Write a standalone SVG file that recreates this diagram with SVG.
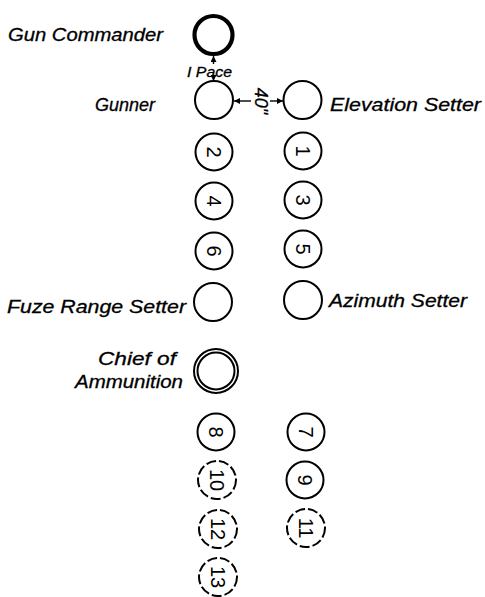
<svg xmlns="http://www.w3.org/2000/svg" width="485" height="597" viewBox="0 0 485 597">
<style>
  .bg{fill:#fff}
  .c{fill:none;stroke:#000;stroke-width:2}
  .thick{fill:none;stroke:#000;stroke-width:4.2}
  .dash{fill:none;stroke:#000;stroke-width:2;stroke-dasharray:10 3}
  .lbl{font-family:"Liberation Sans",Arial,sans-serif;font-style:italic;font-size:18px;fill:#000;stroke:#000;stroke-width:0.3}
  .small{font-family:"Liberation Sans",Arial,sans-serif;font-style:italic;font-size:14px;fill:#000;stroke:#000;stroke-width:0.3}
  .num{font-family:"Liberation Sans",Arial,sans-serif;font-size:20px;fill:#000;text-anchor:middle;dominant-baseline:central}
  .conn{stroke:#000;stroke-width:1.4;fill:none}
</style>
<defs>
  <marker id="ah" viewBox="0 0 6 6" refX="6" refY="3" markerWidth="6" markerHeight="6" markerUnits="userSpaceOnUse" orient="auto">
    <path d="M0,0 L6,3 L0,6 Z" fill="#000"/>
  </marker>
</defs>
<rect class="bg" x="0" y="0" width="485" height="597"/>

<g id="gun-commander">
  <circle class="thick" cx="213.5" cy="35" r="19"/>
  <text class="lbl" x="163" y="41" text-anchor="end" textLength="155" lengthAdjust="spacingAndGlyphs">Gun Commander</text>
</g>
<g id="gunner">
  <circle class="c" cx="214" cy="100" r="19"/>
  <text class="lbl" x="155" y="111" text-anchor="end" textLength="60" lengthAdjust="spacingAndGlyphs">Gunner</text>
</g>
<g id="elevation-setter">
  <circle class="c" cx="302.5" cy="100" r="19"/>
  <text class="lbl" x="330" y="111" textLength="151" lengthAdjust="spacingAndGlyphs">Elevation Setter</text>
</g>

<g id="n2"><circle class="c" cx="214" cy="152" r="18.5"/><text class="num" transform="translate(214,152) rotate(90)">2</text></g>
<g id="n1"><circle class="c" cx="303" cy="151" r="18.5"/><text class="num" transform="translate(303,151) rotate(90)">1</text></g>
<g id="n4"><circle class="c" cx="214" cy="201" r="18.5"/><text class="num" transform="translate(214,201) rotate(90)">4</text></g>
<g id="n3"><circle class="c" cx="303" cy="200" r="18.5"/><text class="num" transform="translate(303,200) rotate(90)">3</text></g>
<g id="n6"><circle class="c" cx="214" cy="251" r="18.5"/><text class="num" transform="translate(214,251) rotate(90)">6</text></g>
<g id="n5"><circle class="c" cx="303" cy="249" r="18.5"/><text class="num" transform="translate(303,249) rotate(90)">5</text></g>

<g id="fuze-range-setter">
  <circle class="c" cx="213" cy="302" r="19"/>
  <text class="lbl" x="186" y="313" text-anchor="end" textLength="179" lengthAdjust="spacingAndGlyphs">Fuze Range Setter</text>
</g>
<g id="azimuth-setter">
  <circle class="c" cx="303" cy="300" r="19"/>
  <text class="lbl" x="329" y="307" textLength="138" lengthAdjust="spacingAndGlyphs">Azimuth Setter</text>
</g>

<g id="chief-of-ammunition">
  <circle class="c" cx="216" cy="371" r="22" stroke-width="1.6"/>
  <circle class="c" cx="216" cy="371" r="18.5" stroke-width="1.6"/>
  <text class="lbl" x="176" y="365" text-anchor="end" textLength="78" lengthAdjust="spacingAndGlyphs">Chief of</text>
  <text class="lbl" x="183" y="388" text-anchor="end" textLength="108" lengthAdjust="spacingAndGlyphs">Ammunition</text>
</g>

<g id="n8"><circle class="c" cx="216" cy="432" r="18.5"/><text class="num" transform="translate(216,432) rotate(90)">8</text></g>
<g id="n7"><circle class="c" cx="306" cy="432" r="18.5"/><text class="num" transform="translate(306,432) rotate(90)">7</text></g>
<g id="n10"><circle class="dash" cx="217" cy="480" r="19"/><text class="num" transform="translate(217,480) rotate(90)">10</text></g>
<g id="n9"><circle class="c" cx="305" cy="480" r="18.5"/><text class="num" transform="translate(305,480) rotate(90)">9</text></g>
<g id="n12"><circle class="dash" cx="218" cy="529" r="19"/><text class="num" transform="translate(218,529) rotate(90)">12</text></g>
<g id="n11"><circle class="dash" cx="306" cy="528" r="19"/><text class="num" transform="translate(306,528) rotate(90)">11</text></g>
<g id="n13"><circle class="dash" cx="218" cy="577" r="19"/><text class="num" transform="translate(218,577) rotate(90)">13</text></g>

<g id="connectors">
  <line class="conn" x1="213.5" y1="64" x2="213.5" y2="56" marker-end="url(#ah)"/>
  <line class="conn" x1="213.5" y1="77" x2="213.5" y2="81" marker-end="url(#ah)"/>
  <text class="small" x="187" y="77" textLength="45" lengthAdjust="spacingAndGlyphs">I Pace</text>
  <line class="conn" x1="251" y1="101" x2="234" y2="101" marker-end="url(#ah)"/>
  <line class="conn" x1="270" y1="101" x2="283" y2="101" marker-end="url(#ah)"/>
  <text class="lbl" font-style="normal" font-size="18" text-anchor="middle" dominant-baseline="central" transform="translate(261,101) rotate(90)">40"</text>
</g>
</svg>
